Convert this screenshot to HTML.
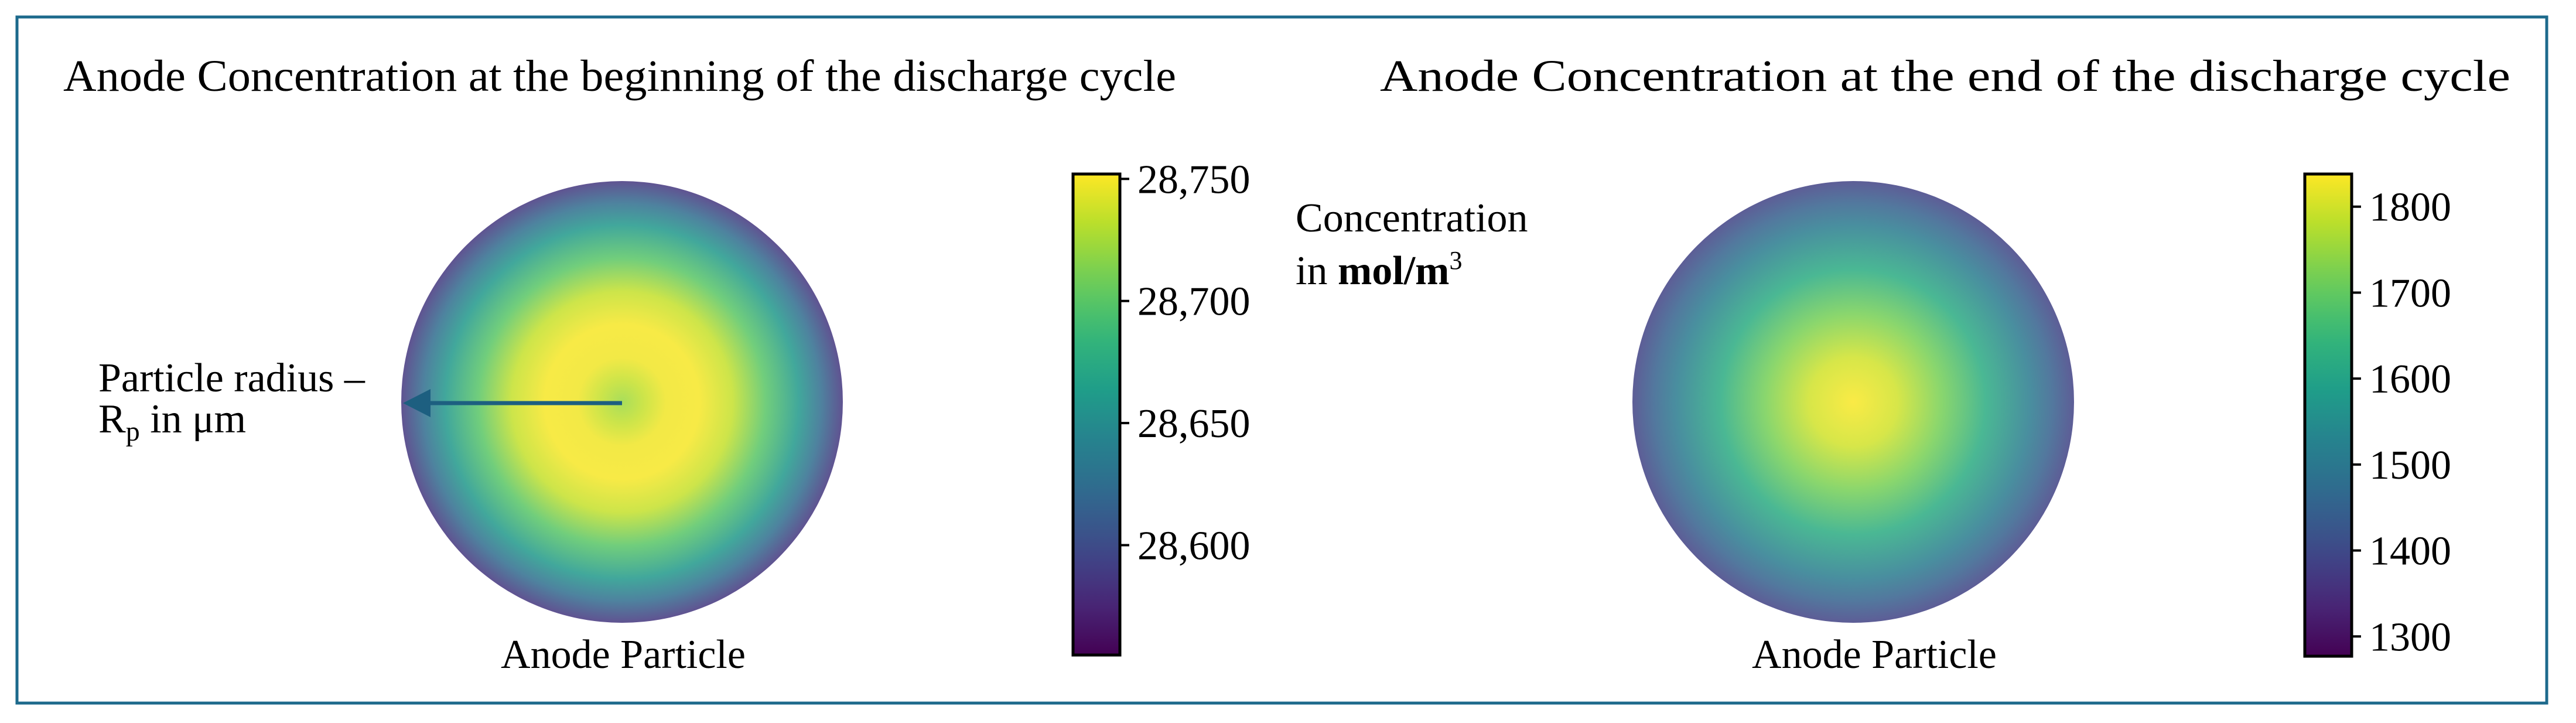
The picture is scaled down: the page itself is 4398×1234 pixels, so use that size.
<!DOCTYPE html>
<html><head><meta charset="utf-8"><style>
html,body{margin:0;padding:0;background:#fff;}
svg{display:block;font-family:"Liberation Serif",serif;}
</style></head><body>
<svg id="fig" width="4398" height="1234" viewBox="0 0 4398 1234" xmlns="http://www.w3.org/2000/svg">
<defs id="defs"></defs>
<rect x="29" y="29" width="4319" height="1171" fill="#fff" stroke="#1d6a8c" stroke-width="5"/>
<text x="108" y="155" font-size="76" textLength="1900" lengthAdjust="spacingAndGlyphs">Anode Concentration at the beginning of the discharge cycle</text>
<text x="2356" y="155" font-size="76" textLength="1930" lengthAdjust="spacingAndGlyphs">Anode Concentration at the end of the discharge cycle</text>
<g id="left"></g>
<g id="right"></g>
<text x="168" y="668" font-size="70">Particle radius –</text>
<text x="168" y="738" font-size="70">R<tspan font-size="48" dy="14">p</tspan><tspan dy="-14"> in μm</tspan></text>
<text x="2212" y="395" font-size="70">Concentration</text>
<text x="2212" y="485" font-size="70">in <tspan font-weight="bold">mol/m</tspan><tspan font-size="44" dy="-26">3</tspan></text>
<text x="1064" y="1140" font-size="70" text-anchor="middle">Anode Particle</text>
<text x="3200" y="1140" font-size="70" text-anchor="middle">Anode Particle</text>
</svg>
<script>
// data
const leftRadii = [0, 0.1, 0.2, 0.35, 0.5, 0.65, 0.8, 0.9, 1.0];
const leftValues = [28722, 28735, 28748, 28750, 28735, 28700, 28660, 28625, 28585];
const rightRadii = [0, 0.2, 0.4, 0.6, 0.8, 0.9, 1.0];
const rightValues = [1835, 1800, 1720, 1620, 1510, 1450, 1385];
const leftTicks = [28750, 28700, 28650, 28600];
const leftTickLabels = ["28,750", "28,700", "28,650", "28,600"];
const leftRange = [28555, 28752];
const rightTicks = [1800, 1700, 1600, 1500, 1400, 1300];
const rightTickLabels = ["1800", "1700", "1600", "1500", "1400", "1300"];
const rightRange = [1277, 1838];

const NS = "http://www.w3.org/2000/svg";
const VIR = [[68,1,84],[72,40,120],[62,74,137],[49,104,142],[38,130,142],[31,158,137],[53,183,121],[109,205,89],[180,222,44],[253,231,37]];
function viridis(t){t=Math.max(0,Math.min(1,t));const f=t*(VIR.length-1);const i=Math.min(VIR.length-2,Math.floor(f));const u=f-i;
 const c=VIR[i].map((v,k)=>Math.round(v+(VIR[i+1][k]-v)*u));return `rgb(${c[0]},${c[1]},${c[2]})`;}
function mk(tag,attrs,parent){const e=document.createElementNS(NS,tag);for(const k in attrs)e.setAttribute(k,attrs[k]);if(parent)parent.appendChild(e);return e;}
const defs=document.getElementById('defs');

function panel(gid, cx, cy, r, radii, values, range, cbX, cbTop, cbBot, ticks, labels){
  const g=document.getElementById(gid);
  const norm=v=>(v-range[0])/(range[1]-range[0]);
  const rg=mk('radialGradient',{id:gid+'-rg',cx:'50%',cy:'50%',r:'50%'},defs);
  radii.forEach((p,i)=>{mk('stop',{offset:(p*100)+'%','stop-color':viridis(norm(values[i]))},rg);});
  const c=mk('circle',{cx:cx,cy:cy,r:r,fill:`url(#${gid}-rg)`,'fill-opacity':0.85},g);
  
  
  // colorbar
  const lg=mk('linearGradient',{id:gid+'-lg',x1:0,y1:1,x2:0,y2:0},defs);
  for(let i=0;i<=20;i++){mk('stop',{offset:(i*5)+'%','stop-color':viridis(i/20)},lg);}
  const cb=mk('rect',{x:cbX,y:cbTop,width:80,height:cbBot-cbTop,fill:`url(#${gid}-lg)`,stroke:'#000','stroke-width':5},g);
  
  
  const yScale=v=>cbBot-(v-range[0])/(range[1]-range[0])*(cbBot-cbTop);
  ticks.forEach((t,i)=>{
    const y=yScale(t);
    const tk=mk('line',{x1:cbX+80,x2:cbX+96,y1:y,y2:y,stroke:'#000','stroke-width':4},g);
    
    
    const tx=mk('text',{x:cbX+110,y:y+24,'font-size':70},g);
    
    
    tx.textContent=labels[i];
  });
}
panel('left',1062,686,377,leftRadii,leftValues,leftRange,1832,297,1118,leftTicks,leftTickLabels);
panel('right',3164,686,377,rightRadii,rightValues,rightRange,3935,297,1120,rightTicks,rightTickLabels);

// arrow
const ag=document.getElementById('left');
const al=mk('line',{x1:1062,y1:688,x2:730,y2:688,stroke:'#1d5f80','stroke-width':7},ag);


const ah=mk('polygon',{points:'688,688 735,664 735,712',fill:'#1d5f80'},ag);


</script>
</body></html>
